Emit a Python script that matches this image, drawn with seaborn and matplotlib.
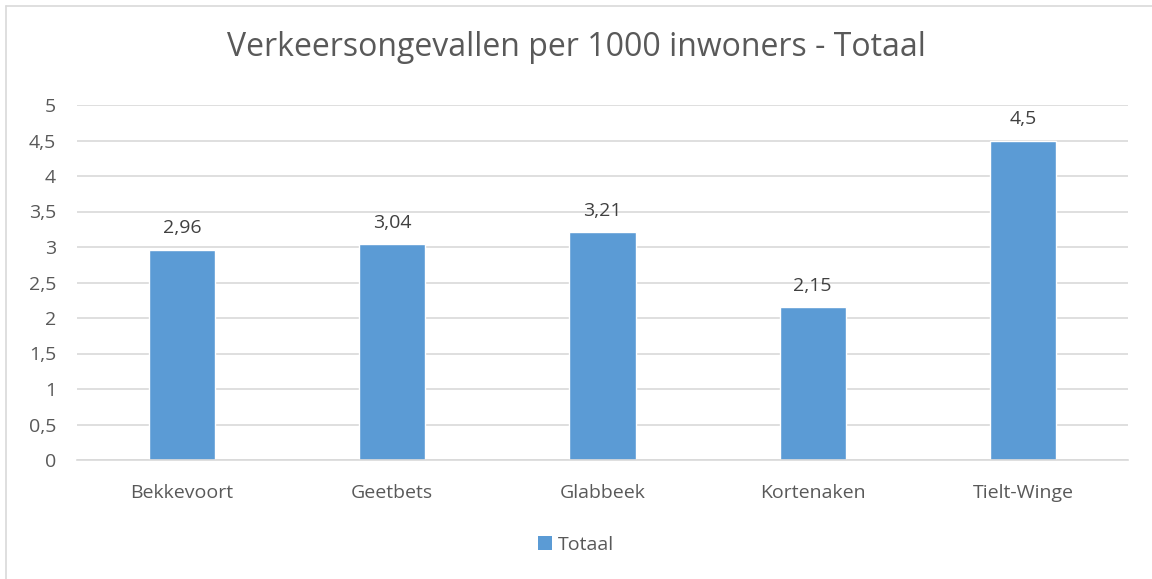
import matplotlib
matplotlib.use("Agg")
import matplotlib.pyplot as plt
import seaborn as sns
import pandas as pd
from matplotlib.lines import Line2D
from matplotlib.patches import Patch
from matplotlib.ticker import FuncFormatter

# Data
gemeenten = ["Bekkevoort", "Geetbets", "Glabbeek", "Kortenaken", "Tielt-Winge"]
totaal = [2.96, 3.04, 3.21, 2.15, 4.5]
y_ticks = [0, 0.5, 1, 1.5, 2, 2.5, 3, 3.5, 4, 4.5, 5]

df = pd.DataFrame({"gemeente": gemeenten, "totaal": totaal})

sns.set_style("white")
plt.rcParams["font.family"] = ["Open Sans", "DejaVu Sans"]

text_color = "#595959"
bar_color = "#5B9BD5"

# Dutch decimal comma
def komma(x, pos=None):
    s = f"{x:g}"
    return s.replace(".", ",")

fig = plt.figure(figsize=(11.52, 5.79), dpi=100)
ax = fig.add_axes([77 / 1152, 1 - 460 / 579, (1128 - 77) / 1152, (460 - 105) / 579])

sns.barplot(data=df, x="gemeente", y="totaal", color=bar_color, width=0.315,
            saturation=1, ax=ax)

ax.set_ylim(0, 5)
ax.set_yticks(y_ticks)
ax.yaxis.set_major_formatter(FuncFormatter(komma))
ax.grid(axis="y", color="#D9D9D9", linewidth=1.2)
ax.set_axisbelow(True)
for side in ["top", "right", "left"]:
    ax.spines[side].set_visible(False)
ax.spines["bottom"].set_color("#D9D9D9")
ax.spines["bottom"].set_linewidth(1.2)
ax.tick_params(axis="both", length=0, labelsize=14, colors=text_color)
ax.tick_params(axis="y", pad=15)
ax.tick_params(axis="x", pad=17)
ax.set_xlabel("")
ax.set_ylabel("")

# Value labels
for container in ax.containers:
    ax.bar_label(container, labels=[komma(v) for v in totaal], padding=9,
                 fontsize=14, color="#404040")

fig.suptitle("Verkeersongevallen per 1000 inwoners - Totaal", y=1 - 48 / 579,
             va="center", fontsize=23, color=text_color)

handles = [Patch(facecolor=bar_color, edgecolor="none", label="Totaal")]
fig.legend(handles=handles, loc="center", bbox_to_anchor=(0.5, 1 - 545 / 579),
           frameon=False, fontsize=14, labelcolor=text_color,
           handlelength=0.75, handleheight=0.75, handletextpad=0.3)

# Chart frame (top and left edges visible)
fig.add_artist(Line2D([6 / 1152, 1.0], [1 - 6 / 579, 1 - 6 / 579],
                      transform=fig.transFigure, color="#D9D9D9", linewidth=1.2))
fig.add_artist(Line2D([6 / 1152, 6 / 1152], [0, 1 - 6 / 579],
                      transform=fig.transFigure, color="#D9D9D9", linewidth=1.2))

fig.savefig("out.png", dpi=100)
